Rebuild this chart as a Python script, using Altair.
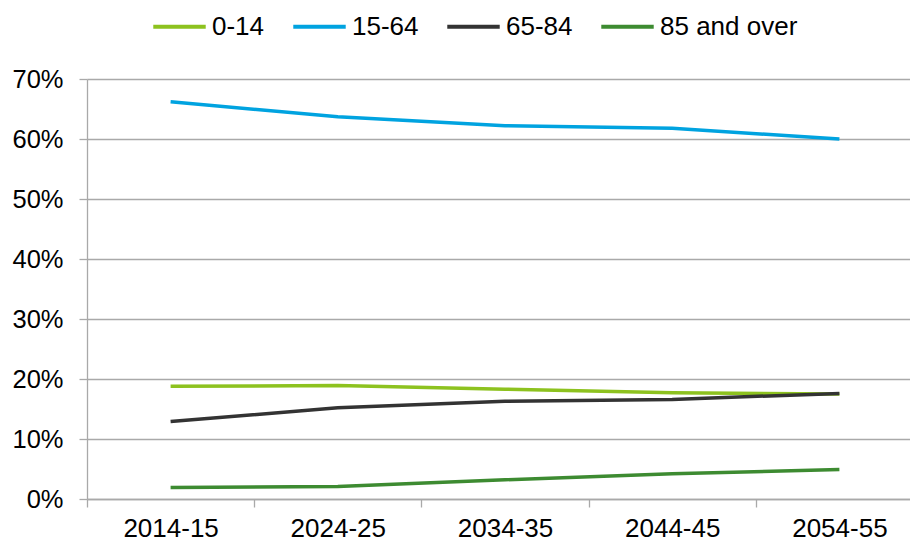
import altair as alt
import pandas as pd

periods = ["2014-15", "2024-25", "2034-35", "2044-45", "2054-55"]
groups = ["0-14", "15-64", "65-84", "85 and over"]
age_0_14 = [18.8, 18.9, 18.3, 17.7, 17.5]
age_15_64 = [66.2, 63.7, 62.2, 61.8, 60.0]
age_65_84 = [12.9, 15.2, 16.3, 16.6, 17.6]
age_85_over = [1.9, 2.1, 3.2, 4.2, 4.9]
colors = ["#8DC21F", "#00A3E0", "#333333", "#3D8B31"]
y_ticks = [0, 0.1, 0.2, 0.3, 0.4, 0.5, 0.6, 0.7]

rows = []
for g, vals in zip(groups, [age_0_14, age_15_64, age_65_84, age_85_over]):
    for p, v in zip(periods, vals):
        rows.append({"period": p, "group": g, "share": v / 100})
df = pd.DataFrame(rows)

FONT = "Liberation Sans"
GRID = "#A9A9A9"

chart = alt.Chart(df).mark_line(strokeWidth=3.5).encode(
    x=alt.X(
        "period:O",
        sort=periods,
        bandPosition=0.5,
        scale=alt.Scale(type="band", paddingInner=0, paddingOuter=0, range=[0, 836]),
        axis=alt.Axis(
            title=None, labelAngle=0, tickBand="extent", grid=False,
            domainColor=GRID, domainWidth=1.3, tickColor=GRID, tickWidth=1.3,
            tickSize=8, labelPadding=8, labelFontSize=26, labelFont=FONT,
            labelColor="#000000",
        ),
    ),
    y=alt.Y(
        "share:Q",
        scale=alt.Scale(domain=[0, 0.7], nice=False),
        axis=alt.Axis(
            title=None, format=".0%", values=y_ticks, grid=True,
            gridColor=GRID, gridWidth=1.3, domainColor=GRID, domainWidth=1.3,
            tickColor=GRID, tickWidth=1.3, tickSize=8, labelPadding=16,
            labelFontSize=25.5, labelFont=FONT, labelColor="#000000",
        ),
    ),
    color=alt.Color(
        "group:N",
        sort=groups,
        scale=alt.Scale(domain=groups, range=colors),
        legend=alt.Legend(
            title=None, orient="none", direction="horizontal",
            legendX=64, legendY=-81, symbolType="stroke",
            symbolSize=2750, symbolStrokeWidth=4, labelFontSize=26,
            labelFont=FONT, labelColor="#000000", labelOffset=4,
            columnPadding=20,
        ),
    ),
).properties(
    width=823, height=420,
    autosize=alt.AutoSizeParams(type="none"),
    padding={"left": 79, "top": 71, "right": 0, "bottom": 44},
).configure_view(stroke=None)

chart.save("out.html", embed_options={"renderer": "svg", "actions": False})
